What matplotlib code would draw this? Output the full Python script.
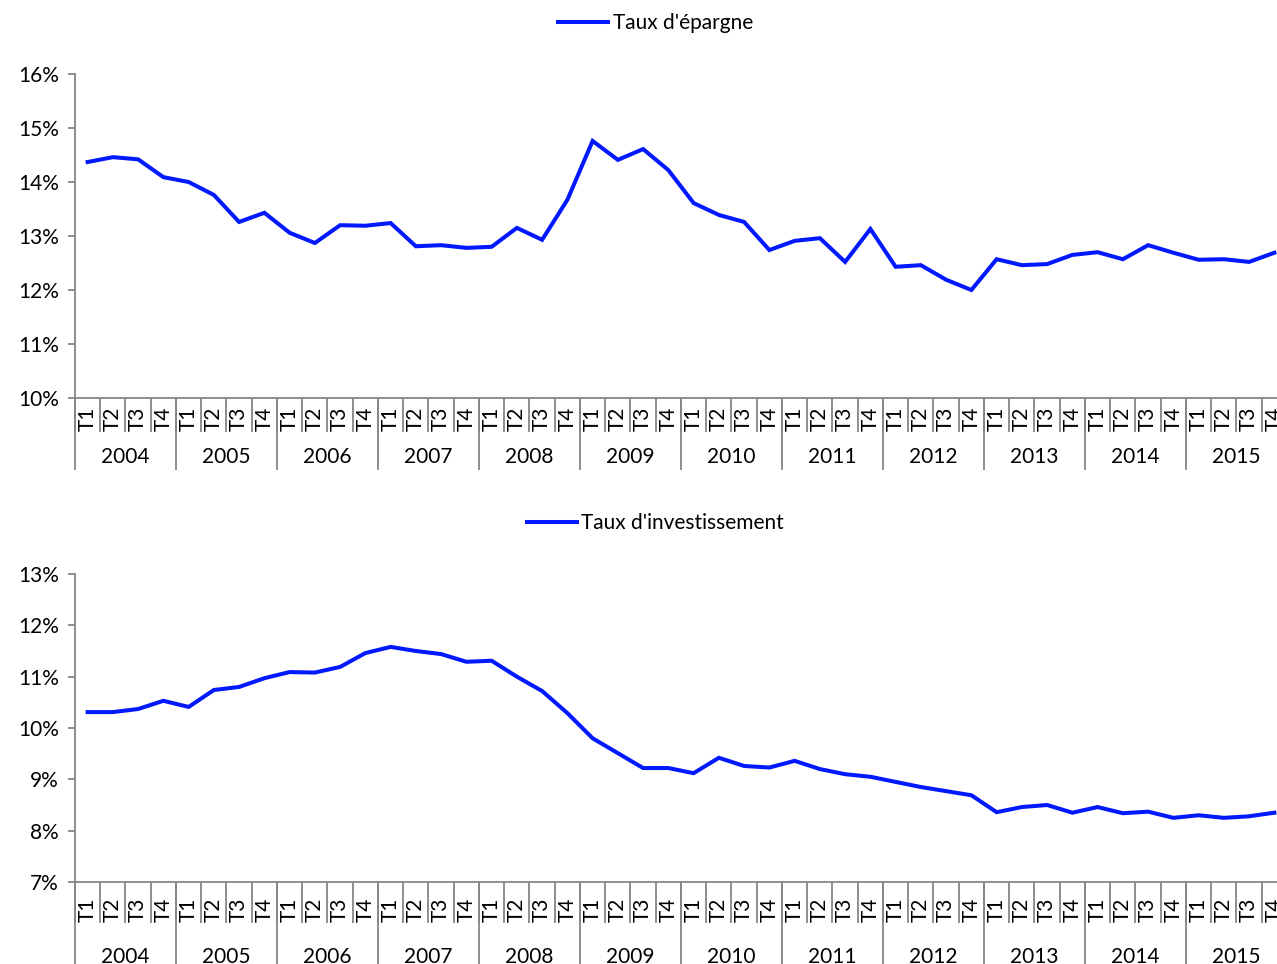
import matplotlib
matplotlib.use("Agg")
import matplotlib.pyplot as plt
from matplotlib.ticker import FuncFormatter

plt.rcParams['font.family'] = ['Lato', 'DejaVu Sans']
plt.rcParams['font.size'] = 15

years = ['2004', '2005', '2006', '2007', '2008', '2009',
         '2010', '2011', '2012', '2013', '2014', '2015']
quarters = ['T1', 'T2', 'T3', 'T4']

# Taux d'épargne (%), T1 2004 .. T4 2015
epargne = [14.37, 14.46, 14.42, 14.09, 14.00, 13.76, 13.26, 13.43,
           13.06, 12.87, 13.20, 13.19, 13.24, 12.81, 12.83, 12.78,
           12.80, 13.15, 12.93, 13.67, 14.76, 14.41, 14.61, 14.22,
           13.61, 13.39, 13.26, 12.74, 12.91, 12.96, 12.52, 13.13,
           12.43, 12.46, 12.19, 12.00, 12.57, 12.46, 12.48, 12.65,
           12.70, 12.57, 12.83, 12.69, 12.56, 12.57, 12.52, 12.69]

# Taux d'investissement (%)
investissement = [10.31, 10.31, 10.37, 10.53, 10.41, 10.74, 10.80, 10.97,
                  11.09, 11.08, 11.19, 11.46, 11.58, 11.50, 11.44, 11.29,
                  11.31, 11.00, 10.72, 10.29, 9.80, 9.51, 9.22, 9.22,
                  9.12, 9.42, 9.26, 9.23, 9.36, 9.20, 9.10, 9.05,
                  8.95, 8.85, 8.77, 8.69, 8.36, 8.46, 8.50, 8.35,
                  8.46, 8.34, 8.37, 8.25, 8.30, 8.25, 8.28, 8.35]

W, H = 1277, 964
grey = '#868686'
blue = '#0018FF'

fig = plt.figure(figsize=(W / 100, H / 100), dpi=100)


def draw(rect, values, label, ylim, t_pad, q_len, y_len, y_pad, leg_y):
    ax = fig.add_axes(rect)
    x = list(range(len(values)))
    ax.plot(x, values, color=blue, lw=2.9, label=label, solid_joinstyle='miter')
    ax.set_xlim(-0.5, len(values) - 0.5)
    ax.set_ylim(*ylim)
    ax.set_yticks(range(ylim[0], ylim[1] + 1))
    ax.yaxis.set_major_formatter(FuncFormatter(lambda v, p: f'{v:.0f}%'))
    for s in ['top', 'right']:
        ax.spines[s].set_visible(False)
    for s in ['left', 'bottom']:
        ax.spines[s].set_color(grey)
        ax.spines[s].set_linewidth(1.3)
    ax.tick_params(axis='y', colors=grey, length=5, width=1.3, pad=6.5,
                   labelcolor='black')

    # quarter labels and separators
    ax.set_xticks(x)
    ax.set_xticklabels([q for _ in years for q in quarters], rotation=90)
    ax.tick_params(axis='x', which='major', length=0, pad=t_pad)
    ax.set_xticks([i - 0.5 for i in range(len(values) + 1)], minor=True)
    ax.tick_params(axis='x', which='minor', length=q_len, width=1.3,
                   color=grey, direction='out')

    # year labels and separators
    sec = ax.secondary_xaxis(0)
    sec.spines['bottom'].set_visible(False)
    sec.set_xticks([4 * k + 1.5 for k in range(len(years))])
    sec.set_xticklabels(years)
    sec.tick_params(axis='x', which='major', length=0, pad=y_pad)
    sec.set_xticks([4 * k - 0.5 for k in range(len(years) + 1)], minor=True)
    sec.tick_params(axis='x', which='minor', length=y_len, width=1.3,
                    color=grey)

    ax.legend(loc='center', bbox_to_anchor=(0.479, leg_y), frameon=False,
              handlelength=2.4, handletextpad=0.2)
    return ax


left = 75 / W
width = 1212 / W

# top chart: 16% at y=74, 10% at y=398
draw([left, (H - 398) / H, width, 324 / H], epargne, "Taux d'épargne",
     (10, 16), t_pad=6.5, q_len=24.5, y_len=52, y_pad=35, leg_y=1 + 51 / 324)

# bottom chart: 13% at y=574, 7% at y=882
draw([left, (H - 882) / H, width, 308 / H], investissement,
     "Taux d'investissement", (7, 13), t_pad=11.5, q_len=29.5, y_len=62,
     y_pad=47, leg_y=1 + 51 / 308)

fig.savefig('out.png', dpi=100)
